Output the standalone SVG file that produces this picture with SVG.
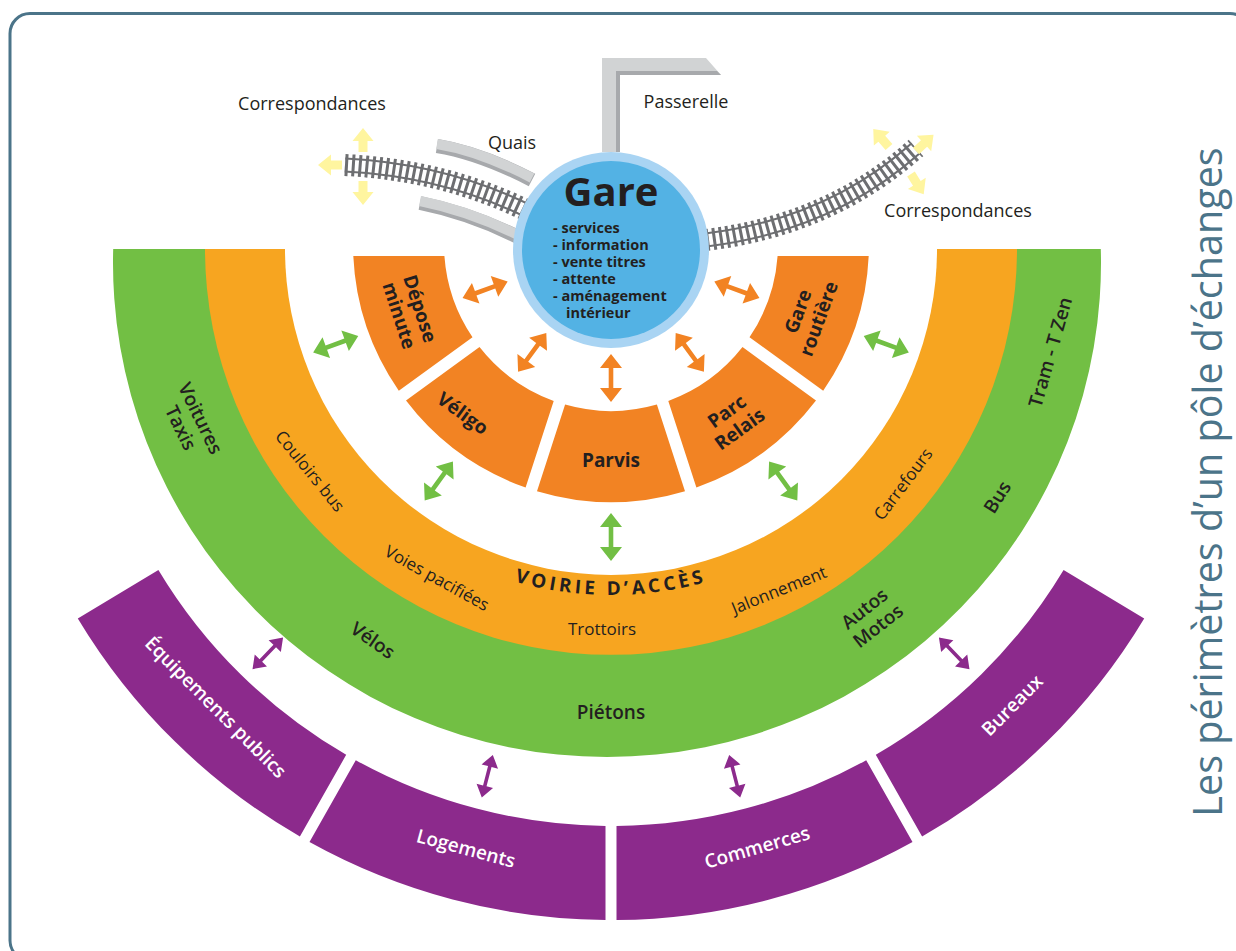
<svg xmlns="http://www.w3.org/2000/svg" width="1236" height="951" viewBox="0 0 1236 951">
<style>
text{font-family:"Open Sans","Noto Sans","DejaVu Sans",sans-serif;fill:#231f20}
.seg{fill:#f28323}
.pur{fill:#8c2a8c}
.lbl{font-size:19px;font-weight:700;text-anchor:middle}
.grn{font-size:19px;font-weight:600;text-anchor:middle}
.org{font-size:17px;font-weight:400;text-anchor:middle}
.wht{font-size:19px;font-weight:600;text-anchor:middle;fill:#fff}
.top{font-size:18px;text-anchor:middle}
.gl{font-size:14.5px;font-weight:700}
.oa{fill:#f28323}
.ga{fill:#72bf44}
.pa{fill:#8c2a8c}
.ya{fill:#fff59f}
</style>
<defs>
<path id="dA" d="M-24,0 L-10,-11 L-10,-2.3 L10,-2.3 L10,-11 L24,0 L10,11 L10,2.3 L-10,2.3 L-10,11 Z"/>
<path id="dP" d="M-22,0 L-10,-8.5 L-10,-1.8 L10,-1.8 L10,-8.5 L22,0 L10,8.5 L10,1.8 L-10,1.8 L-10,8.5 Z"/>
<path id="yA" d="M0,-4.5 L11,-4.5 L11,-10.5 L24,0 L11,10.5 L11,4.5 L0,4.5 Z"/>
<path id="voiriePath" d="M260,244 A351,351 0 0 0 962,244"/>
</defs>

<rect x="10" y="13.5" width="1240" height="947" rx="20" fill="none" stroke="#4b7489" stroke-width="3"/>

<g id="modes">
<path d="M113.2,249 A494,494 0 1 0 1100.8,249 Z" fill="#72bf44"/>
<g class="grn">
<text transform="translate(191,423) rotate(64)"><tspan x="0" y="-4">Voitures</tspan><tspan x="0" y="18">Taxis</tspan></text>
<text transform="translate(373,640) rotate(35)" y="7">Vélos</text>
<text x="611" y="719">Piétons</text>
<text transform="translate(871,617) rotate(-38)"><tspan x="0" y="-4">Autos</tspan><tspan x="0" y="18">Motos</tspan></text>
<text transform="translate(997,497) rotate(-58)" y="7">Bus</text>
<text transform="translate(1050,352) rotate(-74)" y="7">Tram - T Zen</text>
</g>
</g>

<g id="voirie">
<path d="M205,249 A406,406 0 0 0 1017,249 Z" fill="#f7a520"/>
<path d="M285,249 A326,326 0 0 0 937,249 Z" fill="#fff"/>
<g class="org">
<text transform="translate(310,471) rotate(51)" y="6">Couloirs bus</text>
<text transform="translate(437,578) rotate(29)" y="6">Voies pacifiées</text>
<text x="602" y="635">Trottoirs</text>
<text transform="translate(779,590) rotate(-22)" y="6">Jalonnement</text>
<text transform="translate(903,484) rotate(-53)" y="6">Carrefours</text>
</g>
<text font-size="19" font-weight="700" letter-spacing="3.6"><textPath href="#voiriePath" startOffset="50%" text-anchor="middle">VOIRIE D’ACCÈS</textPath></text>
</g>

<g id="gare-routiere">
<path class="seg" d="M868.7,256 A258,258 0 0 1 823.2,390.7 L749.5,337.3 A167,167 0 0 0 777.6,256 Z"/>
<text class="lbl" transform="translate(808,315) rotate(-70)"><tspan x="0" y="-4">Gare</tspan><tspan x="0" y="18">routière</tspan></text>
</g>
<g id="parc-relais">
<path class="seg" d="M816.0,400.6 A258,258 0 0 1 696.4,487.5 L668.3,400.9 A167,167 0 0 0 742.5,347.0 Z"/>
<text class="lbl" transform="translate(733,420) rotate(-36)"><tspan x="0" y="-4">Parc</tspan><tspan x="0" y="18">Relais</tspan></text>
</g>
<g id="parvis">
<path class="seg" d="M685.0,491.2 A258,258 0 0 1 537.0,491.2 L565.1,404.6 A167,167 0 0 0 656.9,404.6 Z"/>
<text class="lbl" x="611" y="467">Parvis</text>
</g>
<g id="veligo">
<path class="seg" d="M525.6,487.5 A258,258 0 0 1 406.0,400.6 L479.5,347.0 A167,167 0 0 0 553.7,400.9 Z"/>
<text class="lbl" transform="translate(463,413) rotate(36)" y="7">Véligo</text>
</g>
<g id="depose-minute">
<path class="seg" d="M398.8,390.7 A258,258 0 0 1 353.3,256 L444.4,256 A167,167 0 0 0 472.5,337.3 Z"/>
<text class="lbl" transform="translate(410,312) rotate(72)"><tspan x="0" y="-4">Dépose</tspan><tspan x="0" y="18">minute</tspan></text>
</g>

<g id="bureaux">
<path class="pur" d="M1144.2,618.4 A622,622 0 0 1 922.1,836.6 L875.8,754.8 A528,528 0 0 0 1063.6,569.9 Z"/>
<text class="wht" transform="translate(1012,705) rotate(-45)" y="7">Bureaux</text>
</g>
<g id="commerces">
<path class="pur" d="M912.5,842.0 A622,622 0 0 1 616.5,920.0 L616.5,826.0 A528,528 0 0 0 866.2,760.2 Z"/>
<text class="wht" transform="translate(757,847) rotate(-16)" y="7">Commerces</text>
</g>
<g id="logements">
<path class="pur" d="M605.5,920.0 A622,622 0 0 1 309.5,842.0 L355.8,760.2 A528,528 0 0 0 605.5,826.0 Z"/>
<text class="wht" transform="translate(466,848) rotate(15)" y="7">Logements</text>
</g>
<g id="equipements">
<path class="pur" d="M299.9,836.6 A622,622 0 0 1 77.8,618.4 L158.4,569.9 A528,528 0 0 0 346.2,754.8 Z"/>
<text class="wht" transform="translate(216,707) rotate(45)" y="7">Équipements publics</text>
</g>

<g id="quais">
<path d="M437,146 Q480,153 532,180" fill="none" stroke="#a7a9ac" stroke-width="14"/>
<path d="M437,144 Q480,151 532,178" fill="none" stroke="#d1d3d4" stroke-width="10"/>
<path d="M420,203 Q470,213 520,238" fill="none" stroke="#a7a9ac" stroke-width="14"/>
<path d="M420,201 Q470,211 520,236" fill="none" stroke="#d1d3d4" stroke-width="10"/>
<text class="top" x="512" y="149">Quais</text>
</g>

<g id="voies-ferrees">
<path d="M345,165 Q445,170 530,212" fill="none" stroke="#6d6e71" stroke-width="15"/>
<path d="M345,165 Q445,170 530,212" fill="none" stroke="#fff" stroke-width="11"/>
<path d="M345,165 Q445,170 530,212" fill="none" stroke="#6d6e71" stroke-width="22" stroke-dasharray="3 3.8"/>
<path d="M706,240 Q830,225 916,148" fill="none" stroke="#6d6e71" stroke-width="15"/>
<path d="M706,240 Q830,225 916,148" fill="none" stroke="#fff" stroke-width="11"/>
<path d="M706,240 Q830,225 916,148" fill="none" stroke="#6d6e71" stroke-width="22" stroke-dasharray="3 3.8"/>
</g>

<g id="passerelle">
<path d="M602,58 L706,58 L721,75 L620,75 L620,152 L602,152 Z" fill="#d1d3d4"/>
<path d="M616,71 L717,71 L721,75 L620,75 L620,152 L616,152 Z" fill="#a7a9ac"/>
<text class="top" x="686" y="108">Passerelle</text>
</g>

<g id="correspondances">
<use href="#yA" class="ya" transform="translate(363,152) rotate(-90)"/>
<use href="#yA" class="ya" transform="translate(342,165) rotate(180)"/>
<use href="#yA" class="ya" transform="translate(363,181) rotate(90)"/>
<use href="#yA" class="ya" transform="translate(889,147) rotate(-131)"/>
<use href="#yA" class="ya" transform="translate(916,151) rotate(-43)"/>
<use href="#yA" class="ya" transform="translate(911,174) rotate(58)"/>
<text class="top" x="312" y="110">Correspondances</text>
<text class="top" x="958" y="217">Correspondances</text>
</g>

<g id="gare">
<circle cx="611" cy="250" r="98" fill="#a9d4f3"/>
<circle cx="611" cy="250" r="89" fill="#53b2e4"/>
<text x="611" y="206" font-size="40" font-weight="700" text-anchor="middle">Gare</text>
<text class="gl" x="553" y="233">- services</text>
<text class="gl" x="553" y="250">- information</text>
<text class="gl" x="553" y="267">- vente titres</text>
<text class="gl" x="553" y="284">- attente</text>
<text class="gl" x="553" y="301">- aménagement</text>
<text class="gl" x="566" y="318">intérieur</text>
</g>

<g id="connectors">
<use href="#dA" class="oa" transform="translate(485.1,289.8) rotate(160)"/>
<use href="#dA" class="oa" transform="translate(532.2,352.4) rotate(126)"/>
<use href="#dA" class="oa" transform="translate(611,378) rotate(90)"/>
<use href="#dA" class="oa" transform="translate(689.8,352.4) rotate(54)"/>
<use href="#dA" class="oa" transform="translate(736.9,289.8) rotate(20)"/>
<use href="#dA" class="ga" transform="translate(335.7,344.2) rotate(160)"/>
<use href="#dA" class="ga" transform="translate(438.8,481) rotate(126)"/>
<use href="#dA" class="ga" transform="translate(611,537) rotate(90)"/>
<use href="#dA" class="ga" transform="translate(783.2,481) rotate(54)"/>
<use href="#dA" class="ga" transform="translate(886.3,344.2) rotate(20)"/>
<use href="#dP" class="pa" transform="translate(954.2,653.3) rotate(46)"/>
<use href="#dP" class="pa" transform="translate(734.7,776.2) rotate(75.5)"/>
<use href="#dP" class="pa" transform="translate(487.3,776.2) rotate(104.5)"/>
<use href="#dP" class="pa" transform="translate(267.8,653.3) rotate(134)"/>
</g>

<text id="titre" transform="translate(1222,482) rotate(-90)" text-anchor="middle" font-size="39.5" style="fill:#4b7489">Les périmètres d’un pôle d’échanges</text>
</svg>
